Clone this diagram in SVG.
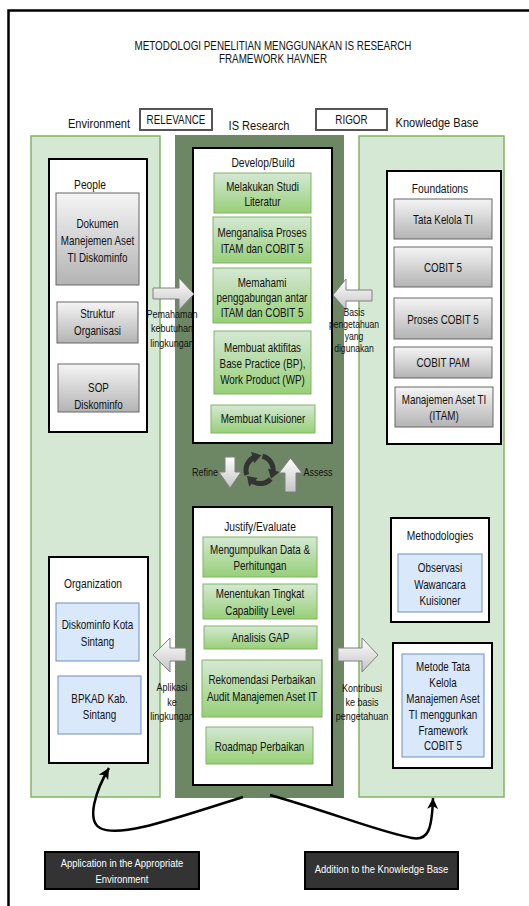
<svg xmlns="http://www.w3.org/2000/svg" width="529" height="906" viewBox="0 0 529 906">
<style>
text{font-family:'Liberation Sans',Arial,sans-serif;text-anchor:middle;fill:#111}
.n{font-size:12px}
.h{font-size:12.5px}
.hd{font-size:13.5px}
.lb{font-size:11px}
.lbs{font-size:10.5px}
.w{font-size:11.5px;fill:#fff}
.panel{fill:#d5e8d4;stroke:#82b366;stroke-width:1.5}
.dark{fill:#6d8764}
.cont{fill:#fff;stroke:#000;stroke-width:2}
.gray{fill:url(#gGray);stroke:#666;stroke-width:1}
.green{fill:url(#gGreen);stroke:#82b366;stroke-width:1}
.blue{fill:#dae8fc;stroke:#6c8ebf;stroke-width:1}
.tag{fill:#fff;stroke:#555;stroke-width:2}
.blk{fill:#333;stroke:#000;stroke-width:2}
.big{fill:url(#gArrow);stroke:#808080;stroke-width:1}
.curve{fill:none;stroke:#000;stroke-width:2.5}
.cyc{fill:none;stroke:#333;stroke-width:5}
</style>
<defs>
<linearGradient id="gGray" x1="0" y1="0" x2="0" y2="1"><stop offset="0" stop-color="#f5f5f5"/><stop offset="1" stop-color="#b3b3b3"/></linearGradient>
<linearGradient id="gGreen" x1="0" y1="0" x2="0" y2="1"><stop offset="0" stop-color="#d5e8d4"/><stop offset="1" stop-color="#97d077"/></linearGradient>
<linearGradient id="gArrow" x1="0" y1="0" x2="0" y2="1"><stop offset="0" stop-color="#ffffff"/><stop offset="1" stop-color="#c4c4c4"/></linearGradient>
<marker id="ah" markerUnits="userSpaceOnUse" markerWidth="12" markerHeight="12" viewBox="0 0 12 12" refX="11" refY="6" orient="auto"><path d="M0,0.5 L11,6 L0,11.5 L3,6 Z" fill="#000"/></marker>
<marker id="ch" markerUnits="userSpaceOnUse" markerWidth="12" markerHeight="12" viewBox="0 0 12 12" refX="6" refY="6" orient="auto"><path d="M2,0 L11,6 L2,12 Z" fill="#333"/></marker>
</defs>
<rect x="0" y="0" width="529" height="906" fill="#fff"/>
<rect x="8.5" y="10.5" width="560" height="940" fill="none" stroke="#000" stroke-width="2.5"/>

<g id="title" transform="translate(273 0) scale(0.82 1)">
<text class="n" y="50">METODOLOGI PENELITIAN MENGGUNAKAN IS RESEARCH</text>
<text class="n" y="63">FRAMEWORK HAVNER</text>
</g>

<g id="headers">
<g transform="translate(99 0) scale(0.82 1)"><text class="hd" y="128">Environment</text></g>
<g id="relevance"><rect class="tag" x="140" y="109" width="72" height="21"/><g transform="translate(176 0) scale(0.82 1)"><text class="n" y="124">RELEVANCE</text></g></g>
<g transform="translate(259 0) scale(0.82 1)"><text class="hd" y="130">IS Research</text></g>
<g id="rigor"><rect class="tag" x="316" y="109" width="71" height="21"/><g transform="translate(351.5 0) scale(0.82 1)"><text class="n" y="124">RIGOR</text></g></g>
<g transform="translate(437 0) scale(0.82 1)"><text class="hd" y="127">Knowledge Base</text></g>
</g>

<g id="environment"><rect class="panel" x="31" y="136" width="129" height="661"/></g>
<g id="is-research"><rect class="dark" x="175" y="135" width="169" height="663"/></g>
<g id="knowledge-base"><rect class="panel" x="359" y="136" width="145" height="661"/></g>

<g id="people">
<rect class="cont" x="49" y="159" width="98" height="273"/>
<g transform="translate(90 0) scale(0.82 1)"><text class="h" y="189">People</text></g>
</g>
<g id="dokumen"><rect class="gray" x="56" y="193" width="83" height="92"/>
<g transform="translate(97.5 0) scale(0.82 1)"><text class="n" y="228">Dokumen</text><text class="n" y="245">Manejemen Aset</text><text class="n" y="262">TI Diskominfo</text></g></g>
<g id="struktur"><rect class="gray" x="57" y="302" width="81" height="41"/>
<g transform="translate(97.5 0) scale(0.82 1)"><text class="n" y="318">Struktur</text><text class="n" y="335">Organisasi</text></g></g>
<g id="sop"><rect class="gray" x="58" y="364" width="81" height="48"/>
<g transform="translate(98.5 0) scale(0.82 1)"><text class="n" y="392">SOP</text><text class="n" y="409">Diskominfo</text></g></g>

<g id="organization">
<rect class="cont" x="49" y="557" width="99" height="206"/>
<g transform="translate(93 0) scale(0.82 1)"><text class="h" y="588">Organization</text></g>
</g>
<g id="diskominfo-kota"><rect class="blue" x="56" y="603" width="83" height="58"/>
<g transform="translate(97.5 0) scale(0.82 1)"><text class="n" y="629">Diskominfo Kota</text><text class="n" y="646">Sintang</text></g></g>
<g id="bpkad"><rect class="blue" x="58" y="676" width="83" height="58"/>
<g transform="translate(99.5 0) scale(0.82 1)"><text class="n" y="703">BPKAD Kab.</text><text class="n" y="719">Sintang</text></g></g>

<g id="develop-build">
<rect class="cont" x="193" y="148" width="139" height="295"/>
<g transform="translate(263 0) scale(0.82 1)"><text class="h" y="167">Develop/Build</text></g>
</g>
<g id="studi-literatur"><rect class="green" x="214" y="173" width="97" height="40"/>
<g transform="translate(262.5 0) scale(0.82 1)"><text class="n" y="191">Melakukan Studi</text><text class="n" y="206">Literatur</text></g></g>
<g id="menganalisa"><rect class="green" x="213" y="217" width="98" height="46"/>
<g transform="translate(262 0) scale(0.82 1)"><text class="n" y="237">Menganalisa Proses</text><text class="n" y="253">ITAM dan COBIT 5</text></g></g>
<g id="memahami"><rect class="green" x="213" y="268" width="98" height="55"/>
<g transform="translate(262 0) scale(0.82 1)"><text class="n" y="287">Memahami</text><text class="n" y="302">penggabungan antar</text><text class="n" y="317">ITAM dan COBIT 5</text></g></g>
<g id="aktifitas"><rect class="green" x="214" y="331" width="97" height="63"/>
<g transform="translate(262.5 0) scale(0.82 1)"><text class="n" y="352">Membuat aktifitas</text><text class="n" y="368">Base Practice (BP),</text><text class="n" y="384">Work Product (WP)</text></g></g>
<g id="kuisioner"><rect class="green" x="211" y="405" width="104" height="28"/>
<g transform="translate(263 0) scale(0.82 1)"><text class="n" y="423">Membuat Kuisioner</text></g></g>

<g id="justify-evaluate">
<rect class="cont" x="193" y="507" width="139" height="278"/>
<g transform="translate(260 0) scale(0.82 1)"><text class="h" y="531">Justify/Evaluate</text></g>
</g>
<g id="mengumpulkan"><rect class="green" x="203" y="537" width="114" height="40"/>
<g transform="translate(260 0) scale(0.82 1)"><text class="n" y="554">Mengumpulkan Data &amp;</text><text class="n" y="570">Perhitungan</text></g></g>
<g id="menentukan"><rect class="green" x="203" y="584" width="114" height="35"/>
<g transform="translate(260 0) scale(0.82 1)"><text class="n" y="598">Menentukan Tingkat</text><text class="n" y="615">Capability Level</text></g></g>
<g id="analisis-gap"><rect class="green" x="204" y="626" width="113" height="23"/>
<g transform="translate(260.5 0) scale(0.82 1)"><text class="n" y="642">Analisis GAP</text></g></g>
<g id="rekomendasi"><rect class="green" x="202" y="660" width="120" height="57"/>
<g transform="translate(262 0) scale(0.82 1)"><text class="n" y="684">Rekomendasi Perbaikan</text><text class="n" y="701">Audit Manajemen Aset IT</text></g></g>
<g id="roadmap"><rect class="green" x="206" y="727" width="107" height="37"/>
<g transform="translate(259.5 0) scale(0.82 1)"><text class="n" y="751">Roadmap Perbaikan</text></g></g>

<g id="foundations">
<rect class="cont" x="387" y="171" width="114" height="273"/>
<g transform="translate(440 0) scale(0.82 1)"><text class="h" y="193">Foundations</text></g>
</g>
<g id="tata-kelola"><rect class="gray" x="394" y="199" width="98" height="40"/><g transform="translate(443 0) scale(0.82 1)"><text class="n" y="224">Tata Kelola TI</text></g></g>
<g id="cobit5"><rect class="gray" x="394" y="247" width="98" height="40"/><g transform="translate(443 0) scale(0.82 1)"><text class="n" y="272">COBIT 5</text></g></g>
<g id="proses-cobit5"><rect class="gray" x="394" y="298" width="98" height="41"/><g transform="translate(443 0) scale(0.82 1)"><text class="n" y="324">Proses COBIT 5</text></g></g>
<g id="cobit-pam"><rect class="gray" x="394" y="347" width="98" height="31"/><g transform="translate(443 0) scale(0.82 1)"><text class="n" y="367">COBIT PAM</text></g></g>
<g id="itam"><rect class="gray" x="395" y="387" width="98" height="40"/>
<g transform="translate(444 0) scale(0.82 1)"><text class="n" y="404">Manajemen Aset TI</text><text class="n" y="420">(ITAM)</text></g></g>

<g id="methodologies">
<rect class="cont" x="391" y="518" width="98" height="104"/>
<g transform="translate(440 0) scale(0.82 1)"><text class="h" y="540">Methodologies</text></g>
</g>
<g id="observasi"><rect class="blue" x="398" y="554" width="84" height="58"/>
<g transform="translate(440 0) scale(0.82 1)"><text class="n" y="572">Observasi</text><text class="n" y="589">Wawancara</text><text class="n" y="605">Kuisioner</text></g></g>

<g id="metode-container"><rect class="cont" x="393" y="643" width="99" height="125"/></g>
<g id="metode"><rect class="blue" x="402" y="654" width="82" height="103"/>
<g transform="translate(443 0) scale(0.82 1)"><text class="n" y="671">Metode Tata</text><text class="n" y="687">Kelola</text><text class="n" y="703">Manajemen Aset</text><text class="n" y="719">TI menggunkan</text><text class="n" y="735">Framework</text><text class="n" y="750">COBIT 5</text></g></g>

<g id="application"><rect class="blk" x="45" y="852" width="154" height="37"/>
<g transform="translate(122 0) scale(0.82 1)"><text class="w" y="867">Application in the Appropriate</text><text class="w" y="883">Environment</text></g></g>
<g id="addition"><rect class="blk" x="305" y="852" width="153" height="37"/>
<g transform="translate(381.5 0) scale(0.82 1)"><text class="w" y="873">Addition to the Knowledge Base</text></g></g>

<g id="connectors">
<polygon class="big" points="153,288 179,288 179,278 194,294 179,310 179,299 153,299"/>
<g transform="translate(172 0) scale(0.82 1)"><text class="lb" y="318">Pemahaman</text><text class="lb" y="332">kebutuhan</text><text class="lb" y="347">lingkungan</text></g>
<polygon class="big" points="372,290 346,290 346,279 333,295 346,310 346,301 372,301"/>
<g transform="translate(354 0) scale(0.82 1)"><text class="lbs" y="316">Basis</text><text class="lbs" y="328">pengetahuan</text><text class="lbs" y="340">yang</text><text class="lbs" y="352">digunakan</text></g>
<polygon class="big" points="186,648 170,648 170,638 153,655 170,672 170,661 186,661"/>
<g transform="translate(172 0) scale(0.82 1)"><text class="lb" y="691">Aplikasi</text><text class="lb" y="706">ke</text><text class="lb" y="720">lingkungan</text></g>
<polygon class="big" points="338,648 362,648 362,638 378,655 362,672 362,661 338,661"/>
<g transform="translate(362 0) scale(0.82 1)"><text class="lb" y="692">Kontribusi</text><text class="lb" y="706">ke basis</text><text class="lb" y="720">pengetahuan</text></g>
<polygon class="big" points="225,457 235,457 235,472 241,472 230,488 219,472 225,472"/>
<g transform="translate(205 0) scale(0.82 1)"><text class="lb" y="476">Refine</text></g>
<polygon class="big" points="290.5,458 302,473 296,473 296,492 285,492 285,473 279,473"/>
<g transform="translate(318 0) scale(0.82 1)"><text class="lb" y="476">Assess</text></g>
<g id="cycle">
<path class="cyc" d="M262.4,456.2 A14,14 0 0 1 272.5,474" marker-end="url(#ch)"/>
<path class="cyc" d="M270.7,479 A14,14 0 0 1 250.5,479.5" marker-end="url(#ch)"/>
<path class="cyc" d="M246.8,474.8 A14,14 0 0 1 256.5,456.5" marker-end="url(#ch)"/>
</g>
<path class="curve" d="M243,797 C170,820 120,838 100,828 C86,820 96,790 109,768" marker-end="url(#ah)"/>
<path class="curve" d="M270,795 C330,812 380,832 412,838 C428,841 432,830 433,798" marker-end="url(#ah)"/>
</g>
</svg>
